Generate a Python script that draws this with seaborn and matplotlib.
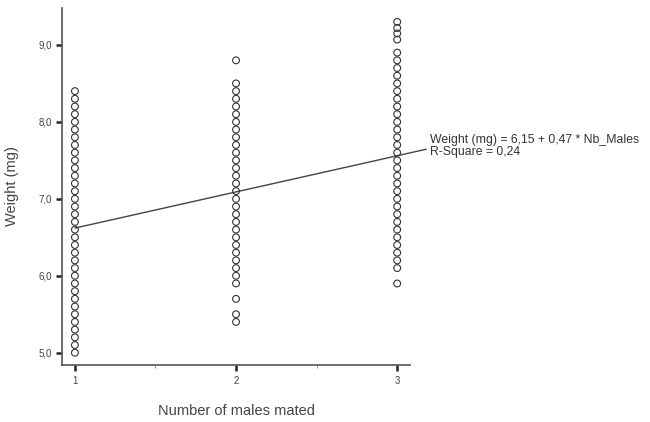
import numpy as np
import pandas as pd
import matplotlib
matplotlib.use("Agg")
import matplotlib.pyplot as plt
import seaborn as sns

# Weight (mg) of females by number of males mated
weights_1 = [8.4, 8.3, 8.2, 8.1, 8.0, 7.9, 7.8, 7.7, 7.6, 7.5, 7.4, 7.3, 7.2, 7.1,
             7.0, 6.9, 6.8, 6.7, 6.6, 6.5, 6.4, 6.3, 6.2, 6.1, 6.0, 5.9, 5.8, 5.7,
             5.6, 5.5, 5.4, 5.3, 5.2, 5.1, 5.0]
weights_2 = [8.8, 8.5, 8.4, 8.3, 8.2, 8.1, 8.0, 7.9, 7.8, 7.7, 7.6, 7.5, 7.4, 7.3,
             7.2, 7.1, 7.0, 6.9, 6.8, 6.7, 6.6, 6.5, 6.4, 6.3, 6.2, 6.1, 6.0, 5.9,
             5.7, 5.5, 5.4]
weights_3 = [9.30, 9.22, 9.15, 9.07, 8.9, 8.8, 8.7, 8.6, 8.5, 8.4, 8.3, 8.2, 8.1,
             8.0, 7.9, 7.8, 7.7, 7.6, 7.5, 7.4, 7.3, 7.2, 7.1, 7.0, 6.9, 6.8, 6.7,
             6.6, 6.5, 6.4, 6.3, 6.2, 6.1, 5.9]

# Linear fit reported in the annotation
intercept = 6.15
slope = 0.47
r_square = 0.24

x_ticks = [1, 2, 3]
y_ticks = [5.0, 6.0, 7.0, 8.0, 9.0]

df = pd.DataFrame({
    "males": [1] * len(weights_1) + [2] * len(weights_2) + [3] * len(weights_3),
    "weight": weights_1 + weights_2 + weights_3,
})

sns.set_style("white")
plt.rcParams["font.family"] = ["Liberation Sans", "DejaVu Sans"]

fig = plt.figure(figsize=(6.5, 4.22), dpi=100)
ax = fig.add_axes([0.0954, 0.135, 0.5355, 0.846])

sns.scatterplot(data=df, x="males", y="weight", ax=ax, marker="o", s=24,
                facecolor="none", edgecolor="#333333", linewidth=0.8,
                legend=False, zorder=3)

fit_x = np.array([1.0, 3.18])
fit = pd.DataFrame({"males": fit_x, "weight": intercept + slope * fit_x})
sns.lineplot(data=fit, x="males", y="weight", ax=ax, color="#444444",
             linewidth=1.0, clip_on=False, zorder=2)

ax.set_xlim(0.92, 3.08)
ax.set_ylim(4.84, 9.48)
ax.set_xticks(x_ticks)
ax.set_xticklabels([str(t) for t in x_ticks])
ax.set_xticks([1.5, 2.5], minor=True)
ax.set_yticks(y_ticks)
ax.set_yticklabels([f"{t:.1f}".replace(".", ",") for t in y_ticks])

for side in ["top", "right"]:
    ax.spines[side].set_visible(False)
for side in ["left", "bottom"]:
    ax.spines[side].set_color("#555555")
    ax.spines[side].set_linewidth(1.2)

ax.tick_params(axis="both", which="major", direction="out", length=4,
               width=1.8, color="#222222", labelsize=7, labelcolor="#444444",
               pad=3, left=True, bottom=True)
ax.tick_params(axis="x", which="minor", direction="out", length=2,
               width=0.8, color="#999999", bottom=True)
ax.tick_params(axis="x", which="major", pad=4)

ax.set_xlabel("Number of males mated", fontsize=10.5, color="#444444",
              labelpad=13)
ax.set_ylabel("Weight (mg)", fontsize=10.5, color="#444444", labelpad=14)

fig.text(430 / 650, 1 - 140 / 422,
         f"Weight (mg) = {intercept:.2f} + {slope:.2f} * Nb_Males".replace(".", ","),
         fontsize=8.8, color="#333333", va="center", ha="left")
fig.text(430 / 650, 1 - 152 / 422,
         f"R-Square = {r_square:.2f}".replace(".", ","),
         fontsize=8.8, color="#333333", va="center", ha="left")

fig.savefig("out.png", dpi=100)
